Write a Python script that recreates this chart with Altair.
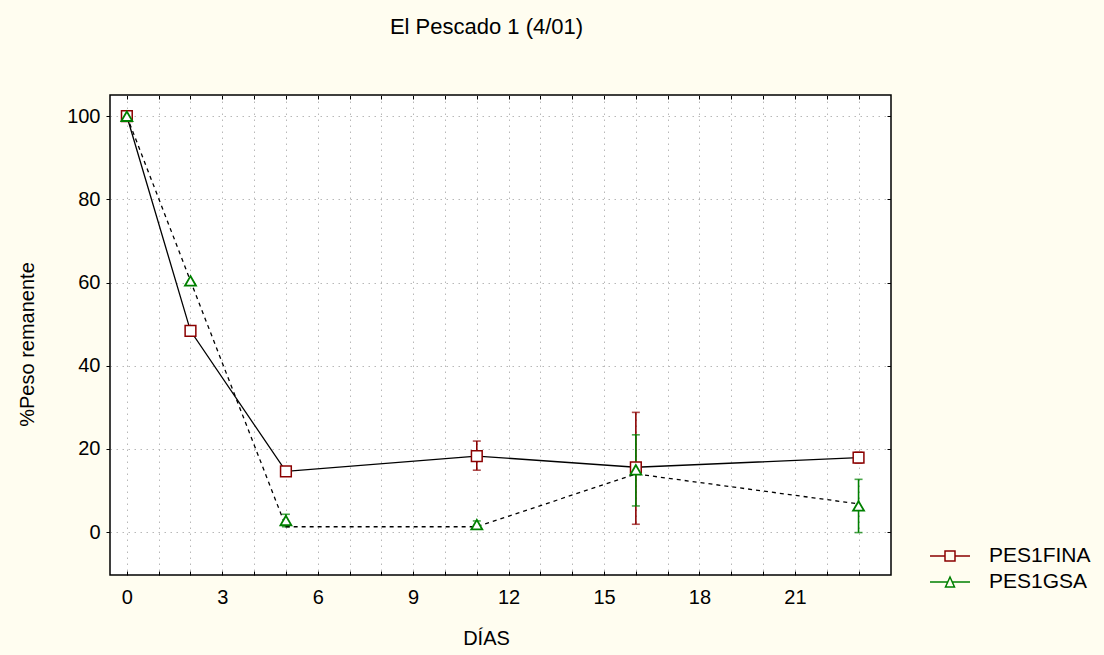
import altair as alt
import pandas as pd

# ---- data ----
days = [0, 2, 5, 11, 16, 23]
fina_mean = [100, 48.4, 14.6, 18.3, 15.6, 17.9]
fina_lo = [None, None, None, 14.9, 1.9, 16.6]
fina_hi = [None, None, None, 21.9, 28.8, 19.2]
gsa_mean = [100, 60.4, 2.8, 1.8, 15.0, 6.3]
gsa_line = [100, 60.4, 1.3, 1.3, 14.0, 6.8]
gsa_lo = [None, None, 1.3, 0.9, 6.3, -0.1]
gsa_hi = [None, None, 4.3, 2.7, 23.4, 12.7]
series_names = ["PES1FINA", "PES1GSA"]
series_colors = ["#8B0000", "#008000"]
title_text = "El Pescado 1 (4/01)"
x_title = "DÍAS"
y_title = "%Peso remanente"
x_ticks = list(range(0, 24))
y_ticks = [0, 20, 40, 60, 80, 100]
x_domain = [-0.53, 24.02]
y_domain = [-10.3, 105.1]

W, H = 781, 480
FONT = "Liberation Sans"
GRID = "#b8b8b8"
GRID_DASH = [1.5, 4.5]

fina = pd.DataFrame({"day": days, "mean": fina_mean, "lo": fina_lo, "hi": fina_hi,
                     "series": series_names[0]})
gsa = pd.DataFrame({"day": days, "mean": gsa_mean, "line": gsa_line, "lo": gsa_lo,
                    "hi": gsa_hi, "series": series_names[1]})
both = pd.concat([fina[["day", "mean", "series"]], gsa[["day", "mean", "series"]]])

xs = alt.Scale(domain=x_domain, nice=False, zero=False)
ys = alt.Scale(domain=y_domain, nice=False, zero=False)

main_x_axis = alt.Axis(values=x_ticks, labelExpr="datum.value % 3 === 0 ? datum.label : ''",
                       grid=True, gridDash=GRID_DASH, gridColor=GRID, gridWidth=1,
                       domain=False, ticks=False, tickSize=0, labelPadding=12,
                       labelFontSize=20, labelFont=FONT, labelColor="black",
                       title=x_title, titleFont=FONT, titleFontSize=20, titleFontWeight="normal",
                       titleColor="black", titleX=376, titleY=53, titleBaseline="top",
                       titleAlign="center")
main_y_axis = alt.Axis(values=y_ticks, grid=True, gridDash=GRID_DASH, gridColor=GRID,
                       gridWidth=1, domain=False, ticks=True, tickSize=4, tickColor="black",
                       labelPadding=6, labelFontSize=20, labelFont=FONT, labelColor="black",
                       title=y_title, titleFont=FONT, titleFontSize=20, titleFontWeight="normal",
                       titleColor="black", titleX=-77, titleY=249, titleAngle=270,
                       titleBaseline="alphabetic", titleAlign="center")
bottom_in_ticks = alt.Axis(orient="top", offset=-H, values=x_ticks, labels=False, domain=False,
                           grid=False, ticks=True, tickSize=4, tickColor="black", title=None)
top_in_ticks = alt.Axis(orient="bottom", offset=-H, values=x_ticks, labels=False, domain=False,
                        grid=False, ticks=True, tickSize=4, tickColor="black", title=None)
right_in_ticks = alt.Axis(orient="left", offset=-W, values=y_ticks, labels=False, domain=False,
                          grid=False, ticks=True, tickSize=4, tickColor="black", title=None)


def errbars(df, color):
    base = alt.Chart(df).transform_filter("isValid(datum.lo)")
    rule = base.mark_rule(color=color, strokeWidth=1.6).encode(
        x=alt.X("day:Q", scale=xs, axis=None),
        y=alt.Y("lo:Q", scale=ys, axis=None),
        y2="hi:Q")
    cap_lo = base.mark_tick(color=color, orient="horizontal", size=8, thickness=1.6).encode(
        x=alt.X("day:Q", scale=xs, axis=None), y=alt.Y("lo:Q", scale=ys, axis=None))
    cap_hi = base.mark_tick(color=color, orient="horizontal", size=8, thickness=1.6).encode(
        x=alt.X("day:Q", scale=xs, axis=None), y=alt.Y("hi:Q", scale=ys, axis=None))
    return [rule, cap_lo, cap_hi]


fina_line = alt.Chart(fina).mark_line(color="black", strokeWidth=1.3).encode(
    x=alt.X("day:Q", scale=xs, axis=main_x_axis),
    y=alt.Y("mean:Q", scale=ys, axis=main_y_axis))
gsa_line_ch = alt.Chart(gsa).mark_line(color="black", strokeWidth=1.3, strokeDash=[4, 4]).encode(
    x=alt.X("day:Q", scale=xs, axis=bottom_in_ticks),
    y=alt.Y("line:Q", scale=ys, axis=right_in_ticks))
fina_pts = alt.Chart(fina).mark_point(shape="square", size=115, filled=True, fill="white",
                                       stroke=series_colors[0], strokeWidth=1.5, opacity=1).encode(
    x=alt.X("day:Q", scale=xs, axis=top_in_ticks),
    y=alt.Y("mean:Q", scale=ys, axis=None))
gsa_pts = alt.Chart(gsa).mark_point(shape="triangle-up", size=121, filled=True, fill="white",
                                     stroke=series_colors[1], strokeWidth=1.8, opacity=1).encode(
    x=alt.X("day:Q", scale=xs, axis=None),
    y=alt.Y("mean:Q", scale=ys, axis=None))

sq_path = "M-1.333,0H-0.333M0.333,0H1.333M-0.333,-0.333H0.333V0.333H-0.333Z"
tri_path = "M-1.333,0H-0.15M0.15,0H1.333M0,-0.333L0.3,0.333H-0.3Z"
leg = alt.Legend(orient="none", legendX=824, legendY=445, title=None,
                 labelFontSize=21, labelFont=FONT, labelColor="black",
                 symbolSize=900, symbolStrokeWidth=1.5, symbolOpacity=1,
                 symbolFillColor="white", labelOffset=23, rowPadding=0,
                 padding=0, labelLimit=0)
legend_layer = alt.Chart(both).mark_point(opacity=0, filled=False, strokeWidth=1.5).encode(
    x=alt.X("day:Q", scale=xs, axis=None),
    y=alt.Y("mean:Q", scale=ys, axis=None),
    color=alt.Color("series:N", scale=alt.Scale(domain=series_names, range=series_colors),
                    legend=leg),
    shape=alt.Shape("series:N", scale=alt.Scale(domain=series_names, range=[sq_path, tri_path]),
                    legend=leg))

layers = errbars(fina, series_colors[0]) + errbars(gsa, series_colors[1]) + [
    fina_line, gsa_line_ch, fina_pts, gsa_pts, legend_layer]

chart = alt.layer(*layers).resolve_axis(x="independent", y="independent").properties(
    width=W, height=H,
    title=alt.TitleParams(title_text, font=FONT, fontSize=22, fontWeight="normal", color="black",
                          anchor="middle", offset=56, dx=-14),
    background="#FFFDF0",
    padding={"left": 110, "top": 95, "right": 213, "bottom": 80},
    autosize=alt.AutoSizeParams(type="none"),
).configure_view(fill="white", stroke="black", strokeWidth=1.5)

chart.save("out.html", embed_options={"renderer": "svg", "actions": False})
